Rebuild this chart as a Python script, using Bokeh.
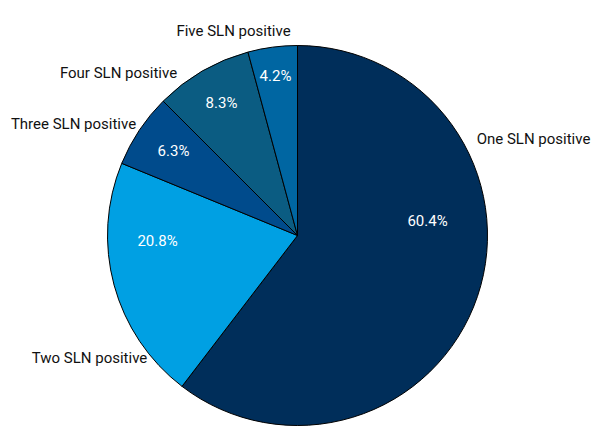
import math
from bokeh.plotting import figure
from bokeh.models import ColumnDataSource, Range1d
from bokeh.core.properties import value
from bokeh.embed import file_html
from bokeh.resources import INLINE

# ---- data ----
categories = ["One SLN positive", "Two SLN positive", "Three SLN positive",
              "Four SLN positive", "Five SLN positive"]
shares = [60.4, 20.8, 6.3, 8.3, 4.2]
pct_labels = ["60.4%", "20.8%", "6.3%", "8.3%", "4.2%"]
colors = ["#002E5A", "#00A0E3", "#004B8C", "#0B5C82", "#0066A2"]

# ---- layout (pixels) ----
W, H = 592, 432
CX, CY, R = 297, 197, 190
# label offsets from pie centre (dx right, dy up) in pixels
name_offsets = [(236, 97), (-208, -122), (-224, 112), (-179, 163), (-64, 205)]
pct_offsets = [(130, 15), (-140, -5), (-124, 85), (-76, 133), (-22, 160)]

total = sum(shares)
starts, ends = [], []
cum = 0.0
for s in shares:
    starts.append(math.pi / 2 - 2 * math.pi * cum / total)
    cum += s
    ends.append(math.pi / 2 - 2 * math.pi * cum / total)

src = ColumnDataSource(dict(cat=categories, start=starts, end=ends, color=colors,
                            x=[CX] * len(shares), y=[CY] * len(shares)))

p = figure(width=W, height=H, output_backend="svg", toolbar_location=None,
           x_range=Range1d(0, W), y_range=Range1d(0, H), min_border=0)
p.axis.visible = False
p.grid.visible = False
p.outline_line_color = None
p.background_fill_color = "white"

p.wedge(x="x", y="y", radius=R, start_angle="start", end_angle="end",
        direction="clock", fill_color="color", line_color="black", line_width=1,
        source=src)

font = value("Roboto")
nsrc = ColumnDataSource(dict(x=[CX + d[0] for d in name_offsets],
                             y=[CY + d[1] for d in name_offsets], t=categories))
p.text(x="x", y="y", text="t", source=nsrc, text_font=font,
       text_font_size="15px", text_color="#111111",
       text_align="center", text_baseline="middle")

psrc = ColumnDataSource(dict(x=[CX + d[0] for d in pct_offsets],
                             y=[CY + d[1] for d in pct_offsets], t=pct_labels))
p.text(x="x", y="y", text="t", source=psrc, text_font=font,
       text_font_size="15px", text_color="white",
       text_align="center", text_baseline="middle")

open("out.html", "w").write(file_html(p, INLINE))
